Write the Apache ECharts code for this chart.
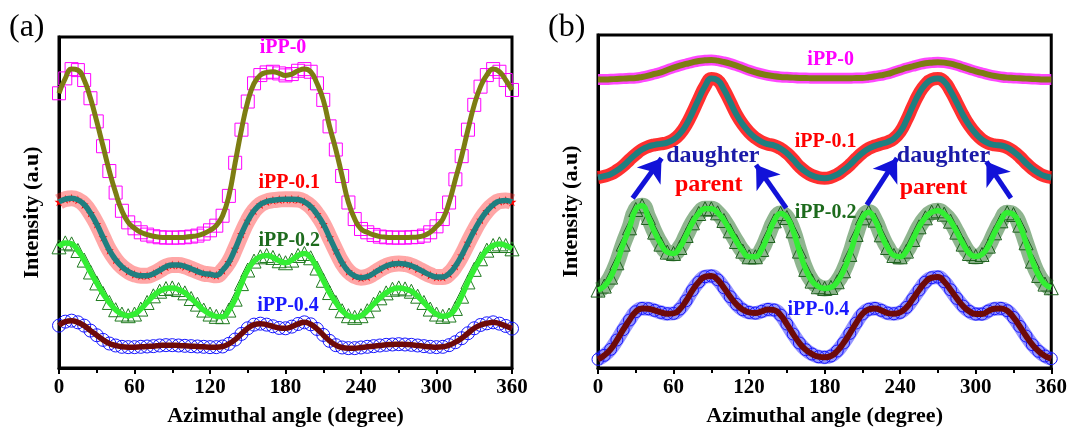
<!DOCTYPE html>
<html>
<head>
<meta charset="utf-8">
<script src="https://cdn.jsdelivr.net/npm/echarts@6/dist/echarts.min.js"></script>
<style>
  html, body { margin: 0; padding: 0; background: #fff; }
  #chart { width: 1070px; height: 432px; }
</style>
</head>
<body>
<div id="chart"></div>
<script>
// Azimuthal angle grid (degrees) shared by every profile
const angles = [0,5,10,15,20,25,30,35,40,45,50,55,60,65,70,75,80,85,90,95,100,105,110,115,120,125,130,135,140,145,150,155,160,165,170,175,180,185,190,195,200,205,210,215,220,225,230,235,240,245,250,255,260,265,270,275,280,285,290,295,300,305,310,315,320,325,330,335,340,345,350,355,360];
const xTicks = [0, 60, 120, 180, 240, 300, 360];

// Panel (a) intensity profiles (offset, arbitrary units)
const a_iPP0  = [83,87.5,90.3,90,87,81.5,74.5,67,59.5,53,47.5,44,42.2,41,40.3,39.8,39.5,39.4,39.4,39.4,39.5,39.7,40,40.6,41.6,43,46,52,62,72,80.5,86,88.5,89.3,89.5,89,88.4,88.8,89.8,90.3,89.5,86,81,73,66,58,50,45,42,41,40.2,39.7,39.5,39.4,39.4,39.4,39.5,39.6,40,41,42.8,45,50,57,64,72,79.5,85,88.5,90.3,89.5,87,84];
const a_iPP01 = [50.2,51,51.3,50.8,49.4,46.8,43.5,39.5,35.6,32.7,30.6,29.2,28.3,27.9,27.9,28.5,29.5,30.6,31.1,31.1,30.7,30,29.2,28.5,28.3,28,29.5,32,36,40.5,44.5,47.5,49.4,50.3,50.7,50.9,51,51,50.9,50.2,48.8,46.5,43.5,39.5,35.5,31.8,29.2,27.8,27.3,27.6,28.6,29.8,30.8,31.4,31.6,31.4,30.9,30,29,28.1,27.5,27.5,28.5,30.8,34,37.8,41.5,44.8,47.4,49.3,50.4,50.6,50.2];
const a_iPP02 = [36.6,37.8,37.5,35.5,32.6,29,25.7,22.5,19.8,17.6,16.3,15.8,16.3,17.8,19.8,21.8,23.2,24,24.2,23.7,22.7,21,19.3,17.5,16.3,15.6,15.5,17.5,20.8,25.5,29.6,32.3,33.6,34,33.4,32.4,31.8,32.6,34,34.6,33.3,30.2,26.5,22.8,19.8,17.3,15.8,15.3,15.8,17.3,19.3,21.2,22.7,23.8,24.2,23.9,23.2,21.7,19.8,17.8,16.3,15.6,16,18,21.7,26,29.8,33,35.6,37,37.5,37,36];
const a_iPP04 = [12.8,14,14.3,13.8,12.8,11.3,9.9,8.5,7.4,6.8,6.4,6.3,6.3,6.4,6.5,6.6,6.8,6.9,6.9,6.8,6.7,6.6,6.5,6.4,6.3,6.3,6.5,7.3,8.6,10.3,12,13.1,13.4,13.1,12.6,12.1,12,12.5,13.3,13.8,13.2,11.8,10,8.2,6.9,6.2,6,6,6.2,6.4,6.6,6.8,7,7.1,7.2,7.1,7,6.8,6.6,6.4,6.3,6.4,6.9,7.8,9,10.5,12,13,13.5,13.8,13.4,12.7,11.9];

// Panel (b) intensity profiles (offset, arbitrary units)
const b_iPP0  = [86.6,86.6,86.7,86.8,86.9,87,87.1,87.4,87.8,88.3,88.8,89.5,90.2,90.8,91.3,91.8,92.2,92.4,92.5,92.3,91.9,91.4,90.8,90.1,89.4,88.8,88.3,87.9,87.6,87.4,87.3,87.2,87.1,87.1,87,87,87,87,87,87,87,87.1,87.1,87.3,87.6,87.9,88.3,88.9,89.5,90.1,90.6,91.1,91.5,91.7,91.8,91.7,91.4,90.9,90.3,89.7,89.1,88.6,88.1,87.7,87.4,87.2,87.1,87,86.9,86.8,86.7,86.6,86.6];
const b_iPP01 = [57.2,57.6,58.2,59.3,60.7,62.5,64.2,65.6,66.5,67,67.3,67.7,68.6,70.3,73,76.7,80.8,84.6,86.9,86.4,83.6,79.9,76.1,73.1,70.8,69.1,67.9,67.2,66.8,65.9,64.5,62.6,60.5,58.9,57.8,57.2,57,57.3,58.1,59.4,61,62.9,64.6,65.9,66.7,67.3,67.9,68.9,70.9,74.4,78.6,82.4,85.1,86.6,86.9,86,83.2,79.6,75.9,72.8,70.4,68.6,67.5,67,66.8,66.2,65,63.4,61.5,59.8,58.5,57.6,57.2];
const b_iPP02 = [23.4,24.6,27.3,31.6,37.2,42.1,47.6,48.7,45.2,40.8,37.2,34.8,34.4,36.2,39.8,43.6,46.4,47.8,47.8,46.6,44.3,41.2,38,35.1,33.4,33.4,35.6,39.8,44.2,46.4,45.2,41.2,35.1,29.6,26.1,24.4,23.9,24.2,25.9,29.2,34.1,40.1,45.1,46.8,44.4,40,36.2,33.8,33.4,35.1,38.6,42.4,45.1,46.8,47.2,46.2,44.1,40.8,37.2,34.4,33.5,34.1,36.6,40.6,44.2,46.6,46.1,42.9,37.6,32.1,27.8,25.2,24.1];
const b_iPP04 = [2.6,3.8,5.6,8.4,11.5,14.4,16.9,17.9,17.8,17.3,16.7,16.3,16.4,17.7,20.2,23.3,25.8,27.4,27.6,26.5,24.1,21.4,19.1,17.5,16.7,16.5,17,17.6,17.4,15.9,13.2,10.2,7.5,5.5,4.2,3.4,3.2,3.6,5.1,7.5,10.4,13.5,16.2,17.6,17.9,17.3,16.5,16.3,16.7,18.2,20.7,23.4,25.8,27.1,27.3,25.9,23.5,20.9,18.6,17,16.2,16.2,17.1,17.8,17.9,17.2,15.2,12.5,9.6,7,5,3.6,2.8];

const SERIF = "'Liberation Serif', 'Times New Roman', serif";

function pairs(vals) {
  return angles.map((a, i) => [a, vals[i]]);
}

function makeGrid(left, top, width, height) {
  return { left, top, width, height, show: true, borderColor: '#000', borderWidth: 3, backgroundColor: '#fff' };
}

function makeX(gridIndex) {
  return {
    type: 'value', gridIndex, min: 0, max: 360, interval: 60,
    axisLine: { show: true, onZero: false, lineStyle: { color: '#000', width: 3 } },
    axisTick: { show: true, length: 6, lineStyle: { color: '#000', width: 2 } },
    minorTick: { show: true, splitNumber: 2, length: 5, lineStyle: { color: '#000', width: 2 } },
    splitLine: { show: false },
    axisLabel: {
      color: '#000', fontFamily: SERIF, fontWeight: 'bold', fontSize: 21, margin: 9,
      formatter: v => (xTicks.indexOf(v) >= 0 ? String(v) : '')
    },
    name: 'Azimuthal angle (degree)', nameLocation: 'middle', nameGap: 37,
    nameTextStyle: { color: '#000', fontFamily: SERIF, fontWeight: 'bold', fontSize: 22 }
  };
}

function makeY(gridIndex) {
  return {
    type: 'value', gridIndex, min: 0, max: 100,
    axisLine: { show: true, lineStyle: { color: '#000', width: 3 } },
    axisTick: { show: false }, axisLabel: { show: false }, splitLine: { show: false },
    name: 'Intensity (a.u)', nameLocation: 'middle', nameGap: 16, nameRotate: 90,
    nameTextStyle: {
      color: '#000', fontFamily: SERIF, fontWeight: 'bold', fontSize: 22,
      padding: [0, 20, 0, 0]
    }
  };
}

// measured points drawn as open symbols
function measured(axis, vals, symbol, size, color, extra) {
  return Object.assign({
    type: 'line', xAxisIndex: axis, yAxisIndex: axis, data: pairs(vals),
    smooth: true, symbol, symbolSize: size, showSymbol: true, showAllSymbol: true,
    itemStyle: { color: 'rgba(0,0,0,0)', borderColor: color, borderWidth: 1 },
    lineStyle: { width: 0 }, z: 2, silent: true
  }, extra || {});
}

// soft band under the measured points
function band(axis, vals, color, width, opacity) {
  return {
    type: 'line', xAxisIndex: axis, yAxisIndex: axis, data: pairs(vals),
    smooth: true, symbol: 'none', lineStyle: { color, width, opacity }, z: 1, silent: true
  };
}

// fitted curve
function fit(axis, vals, color, width, extra) {
  return Object.assign({
    type: 'line', xAxisIndex: axis, yAxisIndex: axis, data: pairs(vals),
    smooth: 0.5, symbol: 'none', lineStyle: { color, width }, z: 5, silent: true
  }, extra || {});
}

function tag(axis, text, x, y, color, size) {
  return {
    type: 'scatter', xAxisIndex: axis, yAxisIndex: axis, data: [[x, y]],
    symbolSize: 1, itemStyle: { color: 'rgba(0,0,0,0)' }, z: 8, zlevel: 1, silent: true,
    label: {
      show: true, position: 'inside', formatter: text, color,
      textBorderWidth: 0, textBorderColor: 'rgba(0,0,0,0)', textShadowBlur: 0, opacity: 1,
      fontFamily: SERIF, fontWeight: 'bold', fontSize: size
    }
  };
}

const STAR = 'path://M50,0 L61,35 L98,35 L68,57 L79,91 L50,70 L21,91 L32,57 L2,35 L39,35 Z';
const arrowBlue = '#1212d8';

const arrows = {
  data: [
    [{ coord: [27.5, 51] }, { coord: [50.5, 63] }],
    [{ coord: [149.5, 48] }, { coord: [125.5, 61] }],
    [{ coord: [213.5, 49] }, { coord: [237.5, 63] }],
    [{ coord: [328, 51] }, { coord: [308.5, 62] }]
  ],
  symbol: ['none', 'arrow'], symbolSize: [22, 22], silent: true,
  label: { show: false },
  lineStyle: { color: arrowBlue, width: 5, type: 'solid' }
};

const option = {
  animation: false,
  backgroundColor: '#fff',
  grid: [makeGrid(59, 37, 453, 336), makeGrid(598, 35, 454, 337)],
  xAxis: [makeX(0), makeX(1)],
  yAxis: [makeY(0), makeY(1)],
  graphic: [
    { type: 'text', left: 9, top: 12, style: { text: '(a)', font: "32px 'Liberation Serif'", fill: '#000' } },
    { type: 'text', left: 548, top: 12, style: { text: '(b)', font: "32px 'Liberation Serif'", fill: '#000' } }
  ],
  series: [
    // ---- panel (a)
    measured(0, a_iPP0, 'rect', 13, '#ff00ff'),
    band(0, a_iPP01, '#ff2020', 16, 0.4),
    measured(0, a_iPP01, STAR, 9, '#ff0000', { itemStyle: { color: '#ff0000' } }),
    measured(0, a_iPP02, 'triangle', 14, '#1f7a1f'),
    measured(0, a_iPP04, 'circle', 13, '#1515ff'),
    fit(0, a_iPP0, '#7d7d12', 5),
    fit(0, a_iPP01, '#1f7f80', 5.5),
    fit(0, a_iPP02, '#33ee33', 5.5),
    fit(0, a_iPP04, '#6e0a0a', 5.5),
    tag(0, 'iPP-0', 178, 96.8, '#ff00ff', 20),
    tag(0, 'iPP-0.1', 183, 55.8, '#ff0000', 20),
    tag(0, 'iPP-0.2', 183, 38.5, '#1d6b1d', 20),
    tag(0, 'iPP-0.4', 182, 18.7, '#1a1aff', 20),

    // ---- panel (b)
    band(1, b_iPP0, '#ff33ff', 11, 0.9),
    band(1, b_iPP01, '#ff1a1a', 13, 0.9),
    band(1, b_iPP02, '#1f6b1f', 16, 0.5),
    measured(1, b_iPP02, 'triangle', 14, '#1a5e1a'),
    band(1, b_iPP04, '#2a2aff', 14, 0.5),
    measured(1, b_iPP04, 'circle', 12, '#1515ff'),
    fit(1, b_iPP0, '#7d7d12', 6),
    fit(1, b_iPP01, '#1f7f80', 6),
    fit(1, b_iPP02, '#33ee33', 5.5, { markLine: arrows }),
    fit(1, b_iPP04, '#6e0a0a', 6),
    tag(1, 'iPP-0', 184.8, 92.6, '#ff00ff', 20),
    tag(1, 'iPP-0.1', 180.8, 68, '#ff0000', 20),
    tag(1, 'iPP-0.2', 180.8, 46.6, '#1d6b1d', 20),
    tag(1, 'iPP-0.4', 175, 17.5, '#1a1aff', 20),
    tag(1, 'daughter', 91.2, 63.8, '#1a1aa8', 24),
    tag(1, 'daughter', 274.4, 63.8, '#1a1aa8', 24),
    tag(1, 'parent', 88, 54.9, '#ff0000', 24),
    tag(1, 'parent', 266.5, 54, '#ff0000', 24)
  ]
};

const chart = echarts.init(document.getElementById('chart'), null, { renderer: 'canvas' });
chart.setOption(option);
</script>
</body>
</html>
